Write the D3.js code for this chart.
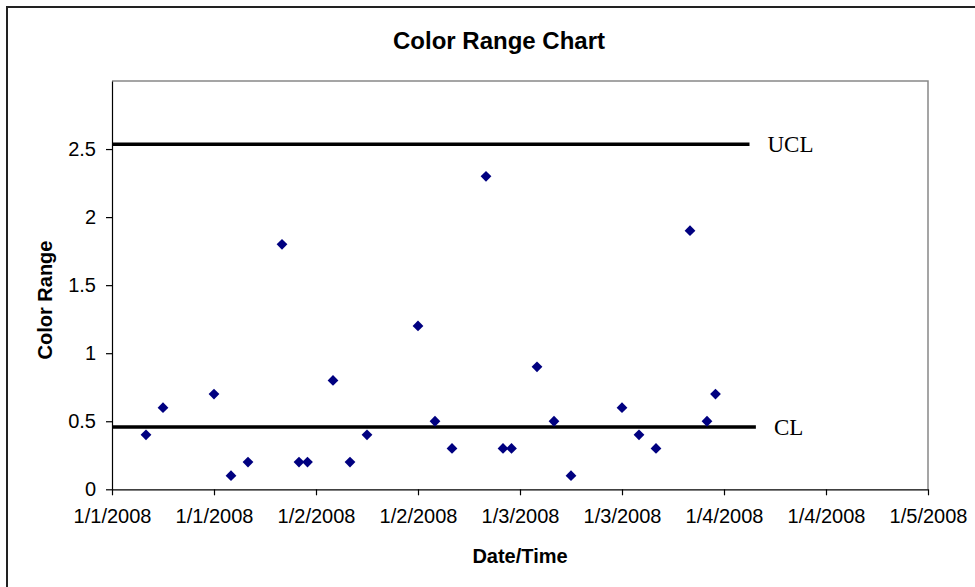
<!DOCTYPE html>
<html>
<head>
<meta charset="utf-8">
<script src="https://cdn.jsdelivr.net/npm/d3@7"></script>
<style>
  html, body { margin: 0; padding: 0; background: #fff; }
  svg { display: block; }
</style>
</head>
<body>
<svg id="chart" width="975" height="587"></svg>
<script>
// Sample times and colour-range readings
const sampleTimes = [
  "2008-01-01T04:00", "2008-01-01T06:00", "2008-01-01T12:00", "2008-01-01T14:00",
  "2008-01-01T16:00", "2008-01-01T20:00", "2008-01-01T22:00", "2008-01-01T23:00",
  "2008-01-02T02:00", "2008-01-02T04:00", "2008-01-02T06:00", "2008-01-02T12:00",
  "2008-01-02T14:00", "2008-01-02T16:00", "2008-01-02T20:00", "2008-01-02T22:00",
  "2008-01-02T23:00", "2008-01-03T02:00", "2008-01-03T04:00", "2008-01-03T06:00",
  "2008-01-03T12:00", "2008-01-03T14:00", "2008-01-03T16:00", "2008-01-03T20:00",
  "2008-01-03T22:00", "2008-01-03T23:00"
];
const colorRange = [
  0.4, 0.6, 0.7, 0.1, 0.2, 1.8, 0.2, 0.2,
  0.8, 0.2, 0.4, 1.2, 0.5, 0.3, 2.3, 0.3, 0.3,
  0.9, 0.5, 0.1, 0.6, 0.4, 0.3, 1.9, 0.5, 0.7
];

// Control limits: name, value, start and end time of the drawn line
const limitNames = ["UCL", "CL"];
const limitValues = [2.535, 0.457];
const limitStarts = ["2008-01-01T00:00", "2008-01-01T00:00"];
const limitEnds = ["2008-01-04T03:00", "2008-01-04T03:45"];

// Axis ticks
const xTickTimes = [
  "2008-01-01T00:00", "2008-01-01T12:00", "2008-01-02T00:00", "2008-01-02T12:00",
  "2008-01-03T00:00", "2008-01-03T12:00", "2008-01-04T00:00", "2008-01-04T12:00",
  "2008-01-05T00:00"
];
const yTickValues = [0, 0.5, 1, 1.5, 2, 2.5];
const yDomain = [0, 3];

const parse = d3.timeParse("%Y-%m-%dT%H:%M");
const fmt = d3.timeFormat("%-m/%-d/%Y");

const svg = d3.select("#chart");
const sans = "'Liberation Sans', Arial, sans-serif";
const serif = "'Liberation Serif', 'Times New Roman', serif";

// Chart frame (extends past the right and bottom edges)
svg.append("rect")
  .attr("x", 7).attr("y", 7)
  .attr("width", 1000).attr("height", 620)
  .attr("fill", "#fff")
  .attr("stroke", "#222").attr("stroke-width", 2);

const plot = { left: 112, right: 928, top: 81, bottom: 489.3 };

const xTicks = xTickTimes.map(parse);
const x = d3.scaleTime()
  .domain([xTicks[0], xTicks[xTicks.length - 1]])
  .range([plot.left, plot.right]);
const y = d3.scaleLinear()
  .domain(yDomain)
  .range([plot.bottom, plot.top]);

// Plot area border (top and right in grey)
svg.append("path")
  .attr("d", `M${plot.left},${plot.top}H${plot.right}V${plot.bottom}`)
  .attr("fill", "none")
  .attr("stroke", "#888").attr("stroke-width", 1.5);

// Y axis
const yAxis = svg.append("g")
  .attr("transform", `translate(${plot.left},0)`)
  .call(d3.axisLeft(y).tickValues(yTickValues).tickSize(6).tickSizeOuter(0)
    .tickPadding(10).tickFormat(d3.format("")));
yAxis.select(".domain").attr("stroke", "#000").attr("stroke-width", 1.2);
yAxis.selectAll(".tick line").attr("stroke", "#000").attr("stroke-width", 1.2);
yAxis.selectAll(".tick text")
  .attr("font-family", sans).attr("font-size", 20).attr("fill", "#000");

// X axis
const xAxis = svg.append("g")
  .attr("transform", `translate(0,${plot.bottom})`)
  .call(d3.axisBottom(x).tickValues(xTicks).tickSize(6).tickSizeOuter(0)
    .tickPadding(14).tickFormat(fmt));
xAxis.select(".domain").attr("stroke", "#000").attr("stroke-width", 1.2);
xAxis.selectAll(".tick line").attr("stroke", "#000").attr("stroke-width", 1.2);
xAxis.selectAll(".tick text")
  .attr("font-family", sans).attr("font-size", 20).attr("fill", "#000");

// Control limit lines and labels
limitNames.forEach((name, i) => {
  const x0 = x(parse(limitStarts[i]));
  const x1 = x(parse(limitEnds[i]));
  const yy = y(limitValues[i]);
  svg.append("line")
    .attr("x1", x0).attr("x2", x1)
    .attr("y1", yy).attr("y2", yy)
    .attr("stroke", "#000").attr("stroke-width", 3.5);
  svg.append("text")
    .attr("x", x1 + 18).attr("y", yy + 8)
    .attr("font-family", serif).attr("font-size", 23)
    .attr("fill", "#000")
    .text(name);
});

// Data points (diamonds)
const diamond = d3.symbol().type(d3.symbolSquare).size(58)();
svg.append("g")
  .selectAll("path")
  .data(sampleTimes.map((t, i) => ({ t: parse(t), v: colorRange[i] })))
  .join("path")
  .attr("d", diamond)
  .attr("transform", d => `translate(${x(d.t)},${y(d.v)}) rotate(45)`)
  .attr("fill", "#000080");

// Titles
svg.append("text")
  .attr("x", 499).attr("y", 49)
  .attr("text-anchor", "middle")
  .attr("font-family", sans).attr("font-weight", "bold").attr("font-size", 24)
  .text("Color Range Chart");

svg.append("text")
  .attr("x", (plot.left + plot.right) / 2).attr("y", 563)
  .attr("text-anchor", "middle")
  .attr("font-family", sans).attr("font-weight", "bold").attr("font-size", 20)
  .text("Date/Time");

svg.append("text")
  .attr("transform", "translate(52,300) rotate(-90)")
  .attr("text-anchor", "middle")
  .attr("font-family", sans).attr("font-weight", "bold").attr("font-size", 20)
  .text("Color Range");
</script>
</body>
</html>
